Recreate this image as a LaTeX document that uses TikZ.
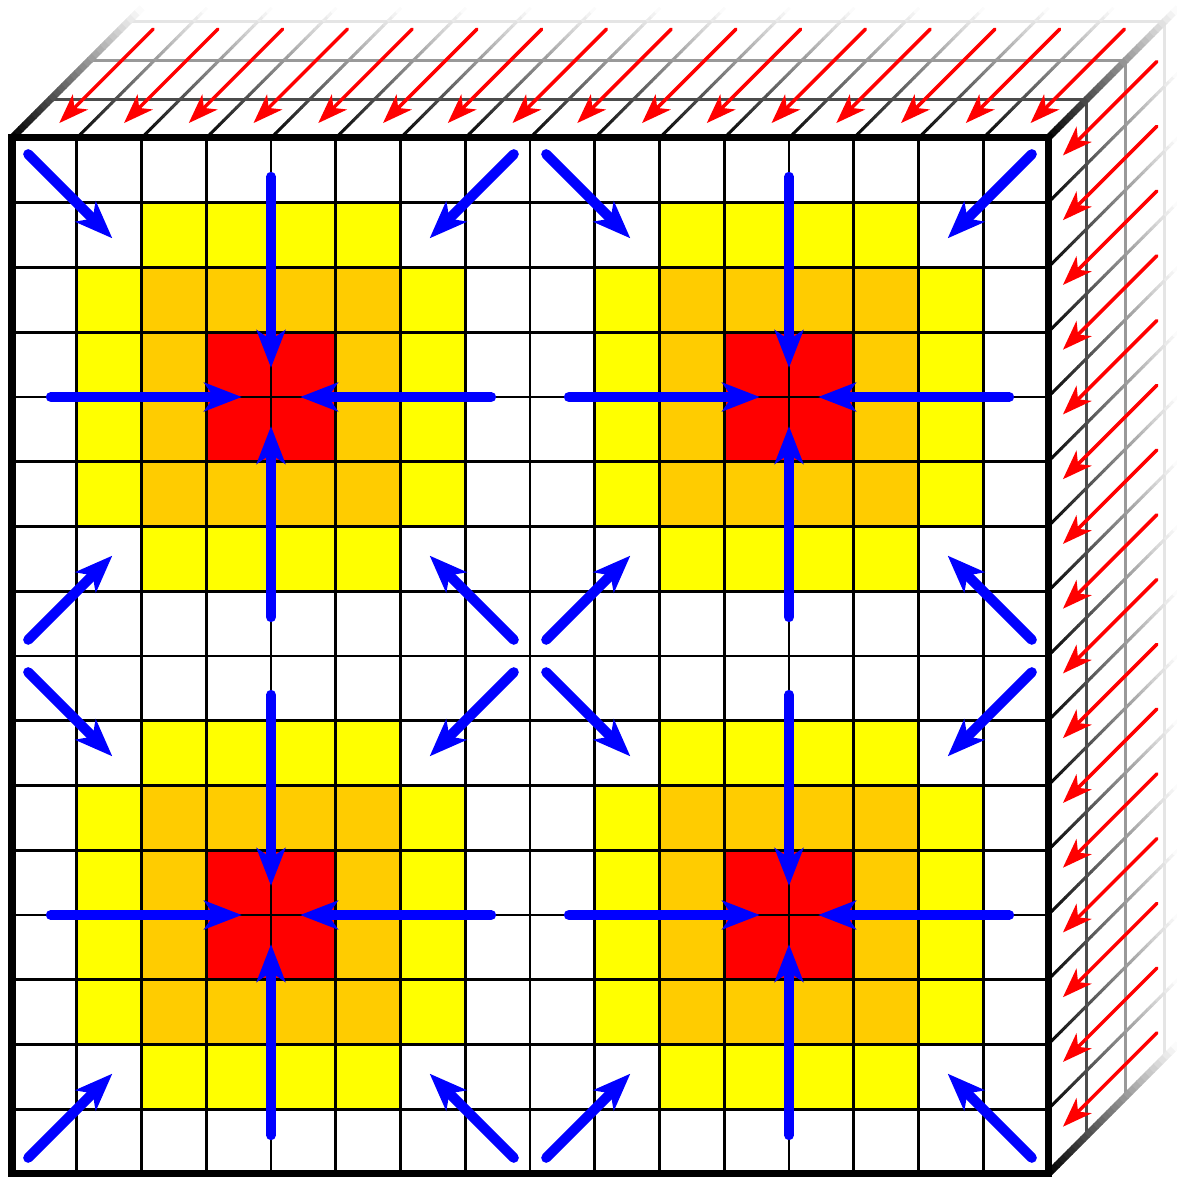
\documentclass[tikz,border=0pt]{standalone}
\usetikzlibrary{arrows.meta}
\definecolor{cyel}{RGB}{255,255,0}
\definecolor{corg}{RGB}{255,204,0}
\definecolor{cred}{RGB}{255,0,0}
\definecolor{cblue}{RGB}{0,0,255}
\newcommand\fadeseg[3]{%
  \foreach \s in {0,...,29}{%
    \pgfmathsetmacro\ta{\s/30}%
    \pgfmathsetmacro\tb{(\s+1.15)/30}%
    \pgfmathsetmacro\pc{100*(1-(\s+0.5)/30)}%
    \draw[line width=#3, black!\pc, line cap=butt] ({#1+2*\ta},{#2+2*\ta}) -- ({#1+2*\tb},{#2+2*\tb});
  }}
\begin{document}
\begin{tikzpicture}[x=1cm,y=1cm,
  thinline/.style={line width=1.3pt, black},
  borderline/.style={line width=3.1pt, black},
  bluearrow/.style={line width=4.4pt, cblue, line cap=round, -{Stealth[length=0.58cm,width=0.44cm,inset=0.15cm]}},
  redarrow/.style={line width=1.5pt, cred, line cap=round, -{Stealth[length=0.46cm,width=0.33cm,inset=0.13cm]}},
]
\useasboundingbox (-0.185,-0.046) rectangle (17.977,18.131);
% back layers
\foreach \k/\c in {3/10,2/40,1/70}{
  \draw[line width=1.4pt, black!\c] ({0.6*\k},{16+0.6*\k}) -- ({16+0.6*\k},{16+0.6*\k}) -- ({16+0.6*\k},{0.6*\k});
}
% receding edges
\foreach \i in {1,...,15}{ \fadeseg{\i}{16}{1.3pt} }
\foreach \j in {1,...,15}{ \fadeseg{16}{\j}{1.3pt} }
\fadeseg{0}{16}{3.1pt}
\fadeseg{16}{16}{3.1pt}
\fadeseg{16}{0}{3.1pt}
% red arrows
\foreach \c in {0,...,15}{ \draw[redarrow] ({\c+2.18},17.68) -- ({\c+0.73},16.23); }
\foreach \r in {0,...,15}{ \draw[redarrow] (17.68,{17.18-\r}) -- (16.23,{15.73-\r}); }
% front face
\fill[white] (0,0) rectangle (16,16);
\foreach \bx/\by in {0/0,8/0,0/8,8/8}{
  \fill[cyel] (\bx+2,\by+1) rectangle (\bx+6,\by+7);
  \fill[cyel] (\bx+1,\by+2) rectangle (\bx+7,\by+6);
  \fill[corg] (\bx+2,\by+2) rectangle (\bx+6,\by+6);
  \fill[cred] (\bx+3,\by+3) rectangle (\bx+5,\by+5);
}
\foreach \i in {1,...,15}{
  \draw[thinline] (\i,0) -- (\i,16);
  \draw[thinline] (0,\i) -- (16,\i);
}
\draw[borderline] (0,0) rectangle (16,16);
% blue arrows
\foreach \bx/\by in {0/0,8/0,0/8,8/8}{
  \draw[bluearrow] (\bx+4,\by+7.4) -- (\bx+4,\by+4.45);
  \draw[bluearrow] (\bx+4,\by+0.6) -- (\bx+4,\by+3.55);
  \draw[bluearrow] (\bx+0.6,\by+4) -- (\bx+3.55,\by+4);
  \draw[bluearrow] (\bx+7.4,\by+4) -- (\bx+4.45,\by+4);
  \draw[bluearrow] (\bx+0.25,\by+7.75) -- (\bx+1.55,\by+6.45);
  \draw[bluearrow] (\bx+7.75,\by+7.75) -- (\bx+6.45,\by+6.45);
  \draw[bluearrow] (\bx+0.25,\by+0.25) -- (\bx+1.55,\by+1.55);
  \draw[bluearrow] (\bx+7.75,\by+0.25) -- (\bx+6.45,\by+1.55);
}
\end{tikzpicture}
\end{document}
